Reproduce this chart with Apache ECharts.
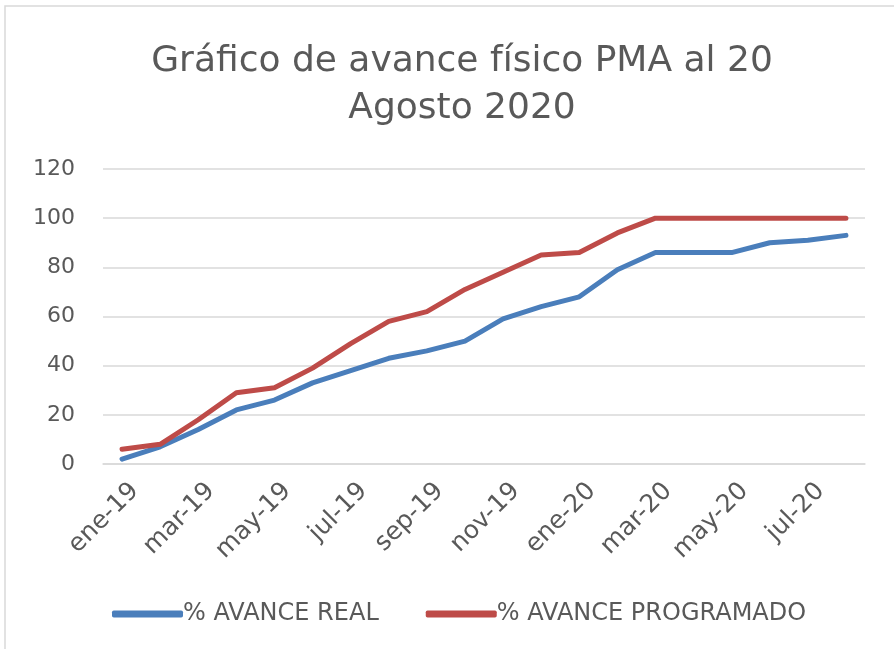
<!DOCTYPE html>
<html>
<head>
    <meta charset="utf-8">
    <script src="https://cdn.jsdelivr.net/npm/echarts@6/dist/echarts.min.js"></script>
    <style>
        body { margin: 0; background: #fff; }
    </style>
</head>
<body>
    <div id="main" style="width: 894px;height:649px;"></div>
    <script type="text/javascript">
        // meses (se muestra uno de cada dos)
        var categories = ['ene-19', 'feb-19', 'mar-19', 'abr-19', 'may-19', 'jun-19', 'jul-19', 'ago-19',
            'sep-19', 'oct-19', 'nov-19', 'dic-19', 'ene-20', 'feb-20', 'mar-20', 'abr-20',
            'may-20', 'jun-20', 'jul-20', 'ago-20'];
        var avanceReal = [2, 7, 14, 22, 26, 33, 38, 43, 46, 50, 59, 64, 68, 79, 86, 86, 86, 90, 91, 93];
        var avanceProgramado = [6, 8, 18, 29, 31, 39, 49, 58, 62, 71, 78, 85, 86, 94, 100, 100, 100, 100, 100, 100];
        var yTicks = [0, 20, 40, 60, 80, 100, 120];

        var textColor = '#595959';
        var fuente = 'DejaVu Sans';
        var myChart = echarts.init(document.getElementById('main'));

        var option = {
            backgroundColor: '#fff',
            animation: false,
            graphic: [{
                type: 'rect',
                shape: { x: 5, y: 6, width: 900, height: 700 },
                style: { fill: 'none', stroke: '#d9d9d9', lineWidth: 1.5 }
            }],
            title: {
                text: 'Gráfico de avance físico PMA al 20\nAgosto 2020',
                left: 457,
                top: 33,
                textAlign: 'center',
                textStyle: {
                    fontFamily: fuente,
                    fontWeight: 'normal',
                    fontSize: 36,
                    lineHeight: 47,
                    color: textColor
                }
            },
            legend: {
                left: 107,
                top: 597,
                itemWidth: 71,
                itemHeight: 7,
                itemGap: 47,
                icon: 'roundRect',
                textStyle: { fontFamily: fuente, fontSize: 24, color: textColor, padding: [0, 0, 0, -5] },
                data: ['% AVANCE REAL', '% AVANCE PROGRAMADO']
            },
            grid: {
                left: 103,
                right: 29,
                top: 169,
                bottom: 185
            },
            xAxis: {
                type: 'category',
                data: categories,
                boundaryGap: true,
                axisLine: { lineStyle: { color: '#d9d9d9', width: 1.5 } },
                axisTick: { show: false },
                axisLabel: {
                    interval: 1,
                    rotate: 45,
                    margin: 36,
                    padding: [0, -18, 0, 0],
                    fontFamily: fuente,
                    fontSize: 25,
                    color: textColor
                }
            },
            yAxis: {
                type: 'value',
                min: 0,
                max: 120,
                interval: 20,
                axisLine: { show: false },
                axisTick: { show: false },
                splitLine: { lineStyle: { color: '#d9d9d9', width: 1.5 } },
                axisLabel: {
                    margin: 28,
                    fontFamily: fuente,
                    fontSize: 22,
                    color: textColor,
                    formatter: function (v) { return yTicks.indexOf(v) >= 0 ? String(v) : ''; }
                }
            },
            series: [{
                name: '% AVANCE REAL',
                type: 'line',
                data: avanceReal,
                showSymbol: false,
                color: '#4a7ebb',
                lineStyle: { width: 5, color: '#4a7ebb', cap: 'round', join: 'round' }
            }, {
                name: '% AVANCE PROGRAMADO',
                type: 'line',
                data: avanceProgramado,
                showSymbol: false,
                color: '#be4b48',
                lineStyle: { width: 5, color: '#be4b48', cap: 'round', join: 'round' }
            }]
        };
        myChart.setOption(option);
    </script>
</body>
</html>
